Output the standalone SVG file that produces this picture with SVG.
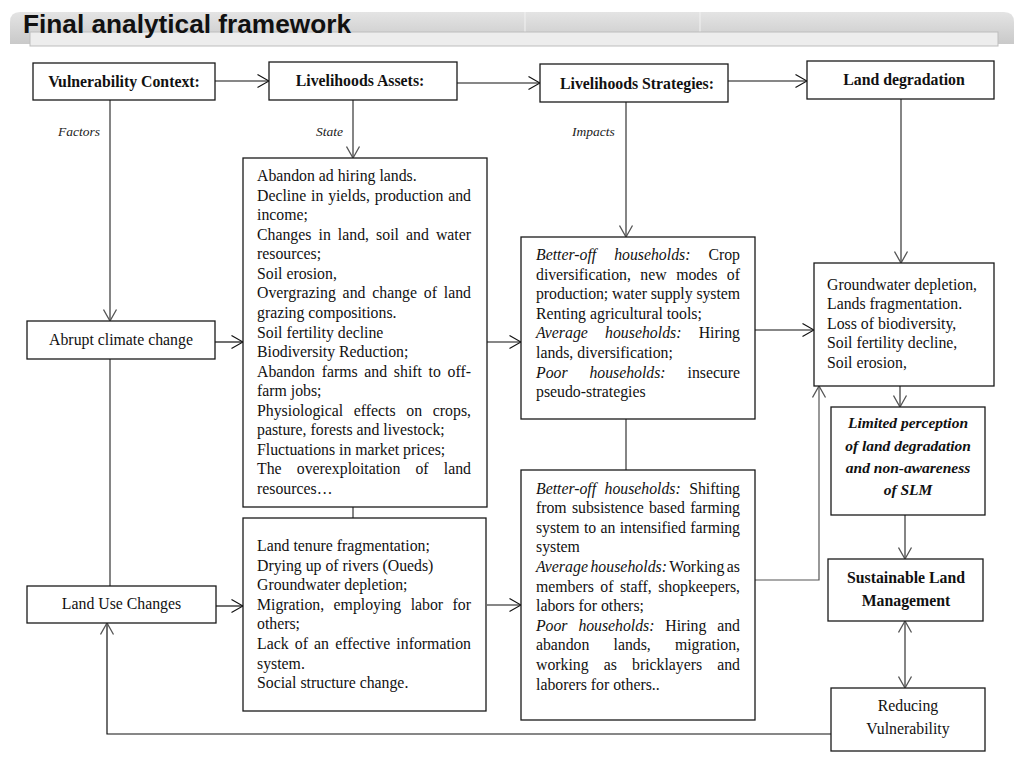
<svg xmlns="http://www.w3.org/2000/svg" width="1024" height="768" viewBox="0 0 1024 768">
<style>
.box{fill:#fff;stroke:#1a1a1a;stroke-width:1.3}
.t{font-family:"Liberation Serif","Times New Roman",serif;font-size:15.8px;fill:#111}
.b{font-weight:bold}
.i{font-style:italic}
.c{text-anchor:middle}
.lbl{font-family:"Liberation Serif","Times New Roman",serif;font-size:13.5px;font-style:italic;fill:#222}
.h{stroke:#111;stroke-width:1.2;fill:none}
.v{stroke:#707070;stroke-width:1.7;fill:none}
</style>
<defs>
<linearGradient id="bg" x1="0" y1="0" x2="0" y2="1">
<stop offset="0" stop-color="#e4e4e4"/>
<stop offset="1" stop-color="#c9c9c9"/>
</linearGradient>
<marker id="ah" markerUnits="userSpaceOnUse" markerWidth="13" markerHeight="15" viewBox="0 0 13 15" refX="12.5" refY="7.5" orient="auto-start-reverse">
<path d="M1,1 L12.5,7.5 L1,14" fill="none" stroke="#111" stroke-width="1.2"/>
</marker>
<marker id="ag" markerUnits="userSpaceOnUse" markerWidth="13" markerHeight="15" viewBox="0 0 13 15" refX="12.5" refY="7.5" orient="auto-start-reverse">
<path d="M1,1 L12.5,7.5 L1,14" fill="none" stroke="#555" stroke-width="1.3"/>
</marker>
</defs>
<rect width="1024" height="768" fill="#fff"/>

<g id="title">
<path d="M10,44 L10,22 Q10,12 20,12 L1004,12 Q1014,12 1014,22 L1014,44 Z" fill="url(#bg)"/>
<line x1="525" y1="12" x2="525" y2="32" stroke="#f2f2f2" stroke-width="1"/>
<line x1="700" y1="12" x2="700" y2="32" stroke="#f2f2f2" stroke-width="1"/>
<rect x="30" y="32" width="968" height="14" fill="#ededed" stroke="#bdbdbd" stroke-width="1"/>
<text x="23" y="33" font-family="'Liberation Sans',Arial,sans-serif" font-weight="bold" font-size="26" textLength="328" lengthAdjust="spacingAndGlyphs" fill="#111">Final analytical framework</text>
</g>

<g id="connectors">
<line class="h" x1="215" y1="81" x2="269" y2="81" marker-end="url(#ah)"/>
<line class="h" x1="457" y1="83" x2="540" y2="83" marker-end="url(#ah)"/>
<line class="h" x1="728" y1="81" x2="807" y2="81" marker-end="url(#ah)"/>
<line class="v" x1="110" y1="100" x2="110" y2="321" marker-end="url(#ag)"/>
<line class="v" x1="110" y1="359" x2="110" y2="586"/>
<line class="h" x1="215" y1="342" x2="243" y2="342" marker-end="url(#ah)"/>
<line class="h" x1="216" y1="606" x2="243" y2="606" marker-end="url(#ah)"/>
<line class="v" x1="353" y1="100" x2="353" y2="158" marker-end="url(#ag)"/>
<line class="v" x1="353" y1="507" x2="353" y2="518"/>
<line class="h" x1="487" y1="342" x2="521" y2="342" marker-end="url(#ah)"/>
<line class="h" x1="487" y1="605" x2="521" y2="605" marker-end="url(#ah)"/>
<line class="v" x1="626" y1="102" x2="626" y2="237" marker-end="url(#ag)"/>
<line class="v" x1="626" y1="419" x2="626" y2="470"/>
<line class="v" x1="901" y1="99" x2="901" y2="263" marker-end="url(#ag)"/>
<line class="h" x1="755" y1="330" x2="814" y2="330" marker-end="url(#ah)"/>
<polyline class="h" points="755,580 819,580 819,386" marker-end="url(#ag)" style="stroke:#555"/>
<line class="v" x1="900" y1="386" x2="900" y2="407" marker-end="url(#ag)"/>
<line class="v" x1="905" y1="515" x2="905" y2="559" marker-end="url(#ag)"/>
<line class="v" x1="905" y1="621" x2="905" y2="688" marker-start="url(#ag)" marker-end="url(#ag)"/>
<polyline class="h" points="831,734 107,734 107,623" marker-end="url(#ag)"/>
<text class="lbl" x="58" y="136">Factors</text>
<text class="lbl" x="316" y="136">State</text>
<text class="lbl" x="572" y="136">Impacts</text>
</g>

<g id="vulnerability-context">
<rect class="box" x="33" y="63" width="182" height="37"/>
<text class="t b c" x="124" y="87">Vulnerability Context:</text>
</g>
<g id="livelihoods-assets">
<rect class="box" x="269" y="62" width="188" height="38"/>
<text class="t b c" x="360" y="86">Livelihoods Assets:</text>
</g>
<g id="livelihoods-strategies">
<rect class="box" x="540" y="64" width="188" height="38"/>
<text class="t b c" x="637" y="89">Livelihoods Strategies:</text>
</g>
<g id="land-degradation">
<rect class="box" x="807" y="61" width="187" height="38"/>
<text class="t b c" x="904" y="85">Land degradation</text>
</g>
<g id="abrupt-climate-change">
<rect class="box" x="27" y="321" width="188" height="38"/>
<text class="t c" x="121" y="345">Abrupt climate change</text>
</g>
<g id="land-use-changes">
<rect class="box" x="27" y="586" width="189" height="37"/>
<text class="t c" x="121.5" y="609">Land Use Changes</text>
</g>

<g id="state-impacts">
<rect class="box" x="243" y="158" width="244" height="349"/>
<text class="t" x="257" y="181">Abandon ad hiring lands.</text>
<text class="t" x="257" y="200.6" word-spacing="0.9" textLength="214" lengthAdjust="spacing">Decline in yields, production and</text>
<text class="t" x="257" y="220.1">income;</text>
<text class="t" x="257" y="239.7" word-spacing="3.1" textLength="214" lengthAdjust="spacing">Changes in land, soil and water</text>
<text class="t" x="257" y="259.2">resources;</text>
<text class="t" x="257" y="278.8">Soil erosion,</text>
<text class="t" x="257" y="298.4" word-spacing="2.8" textLength="214" lengthAdjust="spacing">Overgrazing and change of land</text>
<text class="t" x="257" y="317.9">grazing compositions.</text>
<text class="t" x="257" y="337.5">Soil fertility decline</text>
<text class="t" x="257" y="357">Biodiversity Reduction;</text>
<text class="t" x="257" y="376.6" word-spacing="2.7" textLength="214" lengthAdjust="spacing">Abandon farms and shift to off-</text>
<text class="t" x="257" y="396.2">farm jobs;</text>
<text class="t" x="257" y="415.7" word-spacing="6.7" textLength="214" lengthAdjust="spacing">Physiological effects on crops,</text>
<text class="t" x="257" y="435.3">pasture, forests and livestock;</text>
<text class="t" x="257" y="454.8">Fluctuations in market prices;</text>
<text class="t" x="257" y="474.4" word-spacing="11.2" textLength="214" lengthAdjust="spacing">The overexploitation of land</text>
<text class="t" x="257" y="494">resources…</text>
</g>

<g id="land-use-impacts">
<rect class="box" x="243" y="518" width="243" height="193"/>
<text class="t" x="257" y="551">Land tenure fragmentation;</text>
<text class="t" x="257" y="570.6">Drying up of rivers (Oueds)</text>
<text class="t" x="257" y="590.2">Groundwater depletion;</text>
<text class="t" x="257" y="609.8" word-spacing="5.5" textLength="214" lengthAdjust="spacing">Migration, employing labor for</text>
<text class="t" x="257" y="629.4">others;</text>
<text class="t" x="257" y="649" word-spacing="2.2" textLength="214" lengthAdjust="spacing">Lack of an effective information</text>
<text class="t" x="257" y="668.6">system.</text>
<text class="t" x="257" y="688.2">Social structure change.</text>
</g>

<g id="strategies-climate">
<rect class="box" x="521" y="237" width="234" height="182"/>
<text class="t" x="536" y="260" word-spacing="14" textLength="204" lengthAdjust="spacing"><tspan class="i">Better-off households:</tspan> Crop</text>
<text class="t" x="536" y="279.6" word-spacing="5.6" textLength="204" lengthAdjust="spacing">diversification, new modes of</text>
<text class="t" x="536" y="299.2" textLength="204" lengthAdjust="spacing">production; water supply system</text>
<text class="t" x="536" y="318.8">Renting agricultural tools;</text>
<text class="t" x="536" y="338.4" word-spacing="13.2" textLength="204" lengthAdjust="spacing"><tspan class="i">Average households:</tspan> Hiring</text>
<text class="t" x="536" y="358">lands, diversification;</text>
<text class="t" x="536" y="377.6" word-spacing="18" textLength="204" lengthAdjust="spacing"><tspan class="i">Poor households:</tspan> insecure</text>
<text class="t" x="536" y="397.2">pseudo-strategies</text>
</g>

<g id="strategies-land-use">
<rect class="box" x="521" y="470" width="234" height="250"/>
<text class="t" x="536" y="493.5" word-spacing="4.5" textLength="204" lengthAdjust="spacing"><tspan class="i">Better-off households:</tspan> Shifting</text>
<text class="t" x="536" y="513.1" word-spacing="1.4" textLength="204" lengthAdjust="spacing">from subsistence based farming</text>
<text class="t" x="536" y="532.7" word-spacing="0.5" textLength="204" lengthAdjust="spacing">system to an intensified farming</text>
<text class="t" x="536" y="552.3">system</text>
<text class="t" x="536" y="571.9" word-spacing="-1.5" textLength="204" lengthAdjust="spacing"><tspan class="i">Average households:</tspan> Working as</text>
<text class="t" x="536" y="591.5" word-spacing="2.6" textLength="204" lengthAdjust="spacing">members of staff, shopkeepers,</text>
<text class="t" x="536" y="611.1">labors for others;</text>
<text class="t" x="536" y="630.7" word-spacing="7" textLength="204" lengthAdjust="spacing"><tspan class="i">Poor households:</tspan> Hiring and</text>
<text class="t" x="536" y="650.3" word-spacing="20.3" textLength="204" lengthAdjust="spacing">abandon lands, migration,</text>
<text class="t" x="536" y="669.9" word-spacing="11.3" textLength="204" lengthAdjust="spacing">working as bricklayers and</text>
<text class="t" x="536" y="689.5">laborers for others..</text>
</g>

<g id="degradation-effects">
<rect class="box" x="814" y="263" width="180" height="123"/>
<text class="t" x="827" y="289.5">Groundwater depletion,</text>
<text class="t" x="827" y="309">Lands fragmentation.</text>
<text class="t" x="827" y="328.5">Loss of biodiversity,</text>
<text class="t" x="827" y="348">Soil fertility decline,</text>
<text class="t" x="827" y="367.5">Soil erosion,</text>
</g>

<g id="limited-perception">
<rect class="box" x="831" y="407" width="154" height="108"/>
<text class="t b i c" x="908" y="428" style="font-size:15.5px">Limited perception</text>
<text class="t b i c" x="908" y="450.5" style="font-size:15.5px">of land degradation</text>
<text class="t b i c" x="908" y="473" style="font-size:15.5px">and non-awareness</text>
<text class="t b i c" x="908" y="495" style="font-size:15.5px">of SLM</text>
</g>

<g id="sustainable-land-management">
<rect class="box" x="828" y="559" width="155" height="62"/>
<text class="t b c" x="906" y="583">Sustainable Land</text>
<text class="t b c" x="906" y="606">Management</text>
</g>

<g id="reducing-vulnerability">
<rect class="box" x="831" y="688" width="154" height="63"/>
<text class="t c" x="908" y="711">Reducing</text>
<text class="t c" x="908" y="734">Vulnerability</text>
</g>
</svg>
